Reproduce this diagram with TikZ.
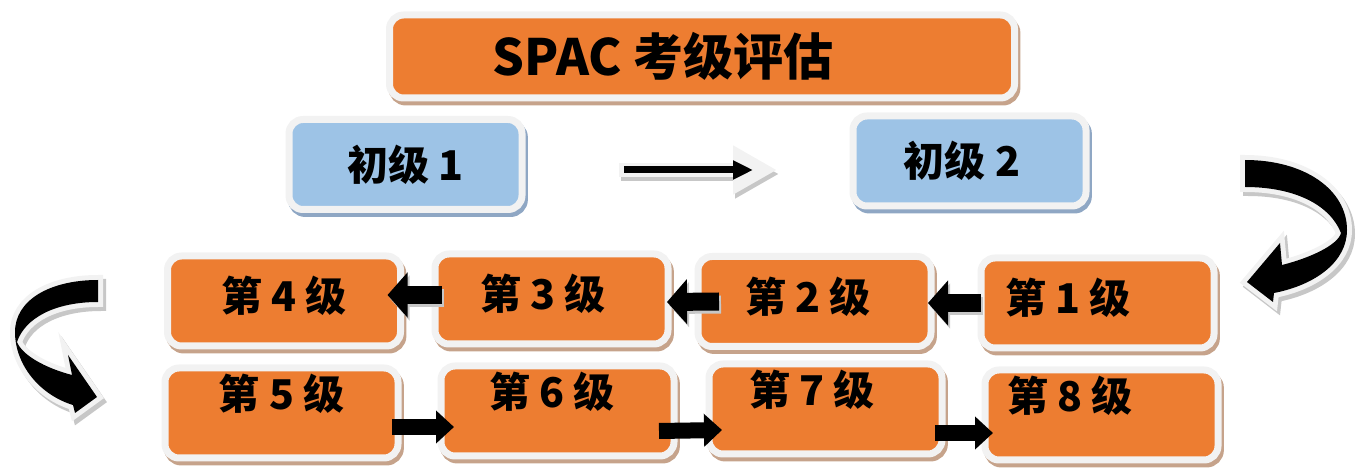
\documentclass[tikz,border=0pt]{standalone}
\usepackage{fontspec}
\newfontfamily\cjk{Noto Sans CJK SC}
\usetikzlibrary{arrows.meta,shadows}
\definecolor{orng}{HTML}{ED7D31}
\definecolor{skyb}{HTML}{9DC3E6}
\definecolor{edge}{HTML}{F2F2F2}
\definecolor{brn}{HTML}{C6A38B}
\definecolor{slate}{HTML}{8FA7C4}
\begin{document}
\begin{tikzpicture}[x=0.5pt, y=-0.5pt,
	box/.style={draw=edge, line width=3.5pt, rounded corners=7pt, outer sep=0pt, font=\cjk\bfseries\fontsize{20.5pt}{24pt}\selectfont, minimum width=116.5pt, minimum height=45pt},
	lvl/.style={box, fill=orng, general shadow={draw=brn, fill=brn, line width=3.5pt, shadow xshift=1.2pt, shadow yshift=-2pt}},
	entry/.style={box, fill=skyb, general shadow={draw=slate, fill=slate, line width=3.5pt, shadow xshift=1.2pt, shadow yshift=-2pt}},
	upper/.style={lvl, inner ysep=0pt, text height=18pt, text depth=7.4pt},
	lower/.style={lvl, inner ysep=0pt, text height=18pt, text depth=21pt},
	blk/.style={line width=9pt, -{Triangle[length=10pt,width=22pt]}, preaction={draw=black!22, line width=9pt, -{Triangle[length=10pt,width=22pt]}, transform canvas={shift={(1pt,-1.5pt)}}}},
	blks/.style={line width=8pt, -{Triangle[length=9pt,width=16pt]}},
	pale/.style={line width=7pt, -{Triangle[length=22pt,width=23pt]}, shorten >=-12pt, shorten <=-2.5pt},
	thin/.style={line width=3.5pt, -{Triangle[length=10pt,width=9pt]}, preaction={pale, draw=black!22, transform canvas={shift={(1pt,-2pt)}}}, preaction={pale, draw=edge}},
	bent/.style={fill=black, preaction={fill=black!22, draw=black!22, line width=5pt, transform canvas={shift={(1.5pt,-2pt)}}}, preaction={fill=edge, draw=edge, line width=5pt}}]
	\useasboundingbox (0,0) rectangle (1362,470);
	\node[lvl, minimum width=312.5pt, minimum height=41.5pt, font=\cjk\bfseries\fontsize{25pt}{30pt}\selectfont] (title) at (702,56.5) {SPAC 考级评估\hspace*{39pt}};
	\node[entry] (b1) at (405.5,164.5) {初级 1};
	\node[entry] (b2) at (969.5,161) {初级 2\hspace*{7.5pt}};
	\node[upper] (l1) at (1097.5,303) {第 1 级\hspace*{29.5pt}};
	\node[upper] (l2) at (814.5,301.5) {第 2 级\hspace*{6.5pt}};
	\node[upper] (l3) at (551.5,299) {第 3 级\hspace*{8.5pt}};
	\node[upper] (l4) at (284,301) {第 4 级};
	\node[lower] (l5) at (281.5,413) {第 5 级};
	\node[lower] (l6) at (557.5,411) {第 6 级\hspace*{5.5pt}};
	\node[lower] (l7) at (825.5,409) {第 7 级\hspace*{13.5pt}};
	\node[lower] (l8) at (1101.5,415) {第 8 级\hspace*{31.5pt}};
	\draw[thin] ([xshift=51pt,yshift=-2.75pt]b1.east) -- ([xshift=-50pt,yshift=-4.5pt]b2.west);
	\draw[blk] ([yshift=0pt]l1.west) -- ([xshift=-1.5pt,yshift=-0.75pt]l2.east);
	\draw[blk] ([xshift=10.5pt]l2.west) -- ([xshift=-0.5pt,yshift=-1.5pt]l3.east);
	\draw[blk] ([xshift=3.5pt,yshift=2pt]l3.west) -- ([xshift=-6.5pt,yshift=3pt]l4.east);
	\draw[blks] ([xshift=-3pt,yshift=-7pt]l5.east) -- ([xshift=6.5pt,yshift=-8pt]l6.west);
	\draw[blks] ([xshift=-7.5pt,yshift=-10pt]l6.east) -- ([xshift=6.5pt,yshift=-10.5pt]l7.west);
	\draw[blks] ([xshift=-3.5pt,yshift=-12pt]l7.east) -- ([xshift=4pt,yshift=-9pt]l8.west);
	\path[bent] (1245,160) .. controls (1305,160) and (1347,190) .. (1347,230)
		.. controls (1347,262) and (1315,285) .. (1274,293)
		-- (1273,302) -- (1247,282) -- (1280,243) -- (1282,265)
		.. controls (1310,258) and (1338,245) .. (1341,233)
		.. controls (1330,205) and (1295,187) .. (1245,187) -- cycle;
	\path[bent] (98,280) .. controls (50,280) and (15,300) .. (15,332)
		.. controls (15,365) and (40,395) .. (73,405)
		-- (75,413) -- (97,397) -- (68,355) -- (72,375)
		.. controls (45,368) and (22,355) .. (17,342)
		.. controls (25,318) and (55,302) .. (98,302) -- cycle;
\end{tikzpicture}
\end{document}
